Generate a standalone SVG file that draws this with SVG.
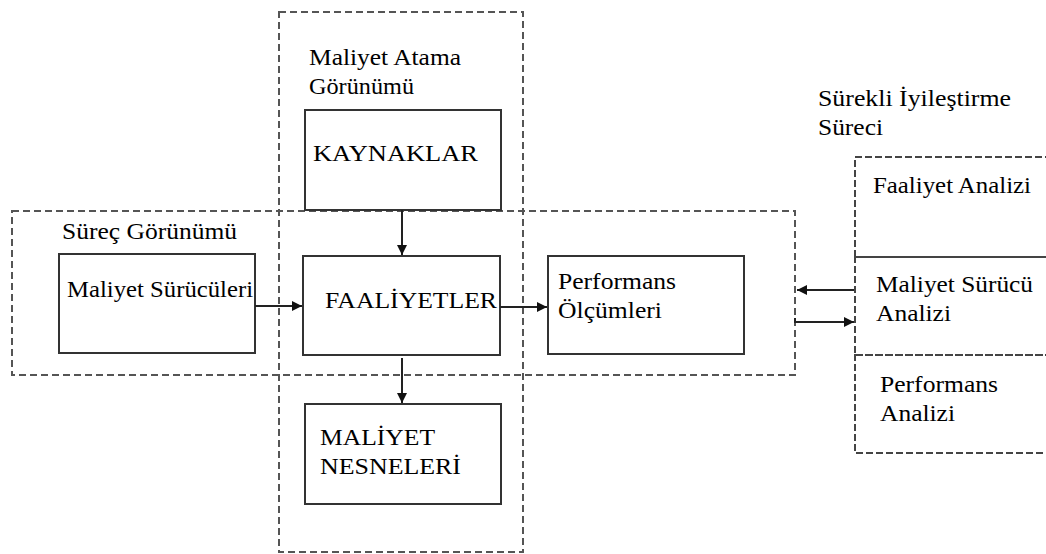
<svg xmlns="http://www.w3.org/2000/svg" width="1046" height="554" viewBox="0 0 1046 554">
<style>
text{font-family:"Liberation Serif","Times New Roman",serif;font-size:24px;fill:#000}
.box{fill:#fff;stroke:#333;stroke-width:2}
.dash{fill:none;stroke:#555;stroke-width:2;stroke-dasharray:7 4}
.dash2{fill:none;stroke:#444;stroke-width:2;stroke-dasharray:7 3}
.conn{fill:none;stroke:#222;stroke-width:2}
</style>
<defs>
<marker id="ah" viewBox="0 0 10 10" refX="10" refY="5" markerWidth="10" markerHeight="10" markerUnits="userSpaceOnUse" orient="auto">
<path d="M0,0 L10,5 L0,10 Z" fill="#111"/>
</marker>
</defs>
<rect width="1046" height="554" fill="#fff"/>

<g id="maliyet-atama-gorunumu">
<rect class="dash" x="279" y="12" width="244" height="540"/>
<text x="309" y="65" textLength="152" lengthAdjust="spacingAndGlyphs">Maliyet Atama</text>
<text x="309" y="94" textLength="105" lengthAdjust="spacingAndGlyphs">Görünümü</text>
</g>

<g id="surec-gorunumu">
<rect class="dash" x="12" y="211" width="783" height="164"/>
<text x="62" y="239" textLength="175" lengthAdjust="spacingAndGlyphs">Süreç Görünümü</text>
</g>

<g id="surekli-iyilestirme">
<text x="818" y="106" textLength="193" lengthAdjust="spacingAndGlyphs">Sürekli İyileştirme</text>
<text x="818" y="135" textLength="65" lengthAdjust="spacingAndGlyphs">Süreci</text>
</g>

<g id="faaliyet-analizi">
<rect class="dash2" x="855" y="157" width="200" height="100"/>
<text x="873" y="193" textLength="158" lengthAdjust="spacingAndGlyphs">Faaliyet Analizi</text>
</g>
<g id="maliyet-surucu-analizi">
<rect class="dash2" x="855" y="257" width="200" height="98"/>
<text x="876" y="292" textLength="157" lengthAdjust="spacingAndGlyphs">Maliyet Sürücü</text>
<text x="876" y="321" textLength="75" lengthAdjust="spacingAndGlyphs">Analizi</text>
</g>
<g id="performans-analizi">
<rect class="dash2" x="855" y="355" width="200" height="98"/>
<text x="880" y="392" textLength="118" lengthAdjust="spacingAndGlyphs">Performans</text>
<text x="880" y="421" textLength="75" lengthAdjust="spacingAndGlyphs">Analizi</text>
</g>

<g id="kaynaklar">
<rect class="box" x="305" y="110" width="196" height="100"/>
<text x="313" y="161" textLength="165" lengthAdjust="spacingAndGlyphs">KAYNAKLAR</text>
</g>

<g id="maliyet-suruculeri">
<rect class="box" x="59" y="254" width="196" height="99"/>
<text x="67" y="297" textLength="186" lengthAdjust="spacingAndGlyphs">Maliyet Sürücüleri</text>
</g>

<g id="faaliyetler">
<rect class="box" x="303" y="256" width="197" height="99"/>
<text x="325" y="308" textLength="172" lengthAdjust="spacingAndGlyphs">FAALİYETLER</text>
</g>

<g id="performans-olcumleri">
<rect class="box" x="548" y="256" width="196" height="98"/>
<text x="558" y="289" textLength="118" lengthAdjust="spacingAndGlyphs">Performans</text>
<text x="558" y="318" textLength="104" lengthAdjust="spacingAndGlyphs">Ölçümleri</text>
</g>

<g id="maliyet-nesneleri">
<rect class="box" x="305" y="404" width="196" height="100"/>
<text x="320" y="445" textLength="115" lengthAdjust="spacingAndGlyphs">MALİYET</text>
<text x="320" y="474" textLength="141" lengthAdjust="spacingAndGlyphs">NESNELERİ</text>
</g>

<g id="connectors">
<line class="conn" x1="402" y1="210" x2="402" y2="255" marker-end="url(#ah)"/>
<line class="conn" x1="255" y1="306" x2="302" y2="306" marker-end="url(#ah)"/>
<line class="conn" x1="500" y1="307" x2="547" y2="307" marker-end="url(#ah)"/>
<line class="conn" x1="402" y1="358" x2="402" y2="403" marker-end="url(#ah)"/>
<line class="conn" x1="854" y1="290" x2="797" y2="290" marker-end="url(#ah)"/>
<path class="conn" d="M795,318 L795,322 L854,322" marker-end="url(#ah)"/>
</g>
</svg>
